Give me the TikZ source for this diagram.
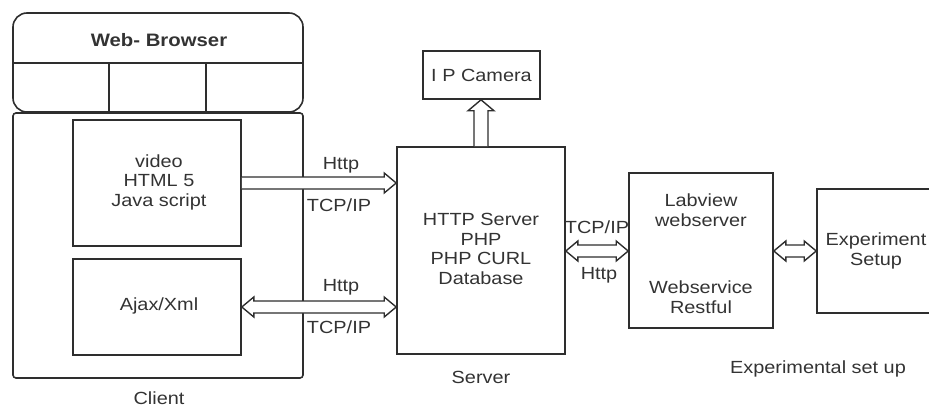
\documentclass[tikz,border=0pt]{standalone}
\usepackage{fontspec}
\setmainfont{Liberation Sans}[FakeStretch=1.13]
\usetikzlibrary{calc}
\definecolor{ln}{gray}{0.18}
\definecolor{txt}{gray}{0.2}
\tikzset{
  box/.style={draw=ln, line width=1.6pt, rectangle, inner sep=0pt},
  lbl/.style={font=\fontsize{17.6}{19.5}\selectfont, text=txt, align=center, inner sep=0pt},
  arr/.style={draw=ln, line width=1.4pt, fill=white, line join=miter},
}
% hollow block arrow, open tail at #1, tip at #2 (horizontal)
\newcommand\blockR[2]{%
  \draw[arr] ($(#1)+(0,6)$) -- ($(#2)+(-12,6)$) -- ($(#2)+(-12,10)$) -- (#2)
    -- ($(#2)+(-12,-10)$) -- ($(#2)+(-12,-6)$) -- ($(#1)+(0,-6)$);}
% hollow block arrow with tips at both ends (horizontal, #1 left, #2 right)
\newcommand\blockD[2]{%
  \draw[arr] ($(#1)+(12,6)$) -- ($(#2)+(-12,6)$) -- ($(#2)+(-12,10)$) -- (#2)
    -- ($(#2)+(-12,-10)$) -- ($(#2)+(-12,-6)$) -- ($(#1)+(12,-6)$)
    -- ($(#1)+(12,-10)$) -- (#1) -- ($(#1)+(12,10)$) -- cycle;}
% hollow block arrow pointing up, tail #1, tip #2
\newcommand\blockU[2]{%
  \draw[arr] ($(#1)+(-7,0)$) -- ($(#2)+(-7,11)$) -- ($(#2)+(-13,11)$) -- (#2)
    -- ($(#2)+(13,11)$) -- ($(#2)+(7,11)$) -- ($(#1)+(7,0)$);}
\begin{document}
\begin{tikzpicture}[x=1pt, y=-1pt]
\useasboundingbox (0,0) rectangle (929,409);

% client side
\node[box, rounded corners=14pt, minimum width=290pt, minimum height=99pt] (browser) at (158,62.5) {};
\coordinate (hdr) at (158,63);
\coordinate (div1) at (109,63);
\coordinate (div2) at (206,63);
\draw[ln, line width=1.6pt] (browser.west |- hdr) -- (browser.east |- hdr);
\draw[ln, line width=1.6pt] (div1) -- (div1 |- browser.south);
\draw[ln, line width=1.6pt] (div2) -- (div2 |- browser.south);
\node[lbl, font=\fontsize{18}{20}\selectfont\bfseries] (btitle) at (159,40) {Web- Browser};

\node[box, rounded corners=3pt, minimum width=290pt, minimum height=265pt] (client) at (158,245.5) {};
\node[box, minimum width=168pt, minimum height=126pt] (vid) at (157,183) {};
\node[lbl] (vidtxt) at (159,182) {video\\HTML 5\\Java script};
\node[box, minimum width=168pt, minimum height=96pt] (ajax) at (157,307) {};
\node[lbl] (ajaxtxt) at (159,306) {Ajax/Xml};
\node[lbl] (clientlbl) at (159,398) {Client};

% server side
\node[box, minimum width=168pt, minimum height=207pt] (server) at (481,250.5) {};
\node[lbl] (servertxt) at (481,249) {HTTP Server\\PHP\\PHP CURL\\Database};
\node[lbl] (serverlbl) at (481,377) {Server};
\node[box, minimum width=117pt, minimum height=48pt] (camera) at (481.5,75) {};
\node[lbl] (cameratxt) at (481.5,75) {I P Camera};

% experimental set up (box runs past the right edge)
\node[box, minimum width=200pt, minimum height=124pt] (expt) at (917,251) {};
\node[box, minimum width=144pt, minimum height=155pt] (labview) at (701,250.5) {};
\node[lbl] (lvtop) at (701,210) {Labview\\webserver};
\node[lbl] (lvbot) at (701,297) {Webservice\\Restful};
\node[lbl] (expttxt) at (876,251) {Experiment\\Setup};
\node[lbl] (exptlbl) at (818,369) {Experimental set up};

% connectors
\coordinate (lane) at (700,251);
\blockR{vid.east}{server.west |- vid.east}
\node[lbl] (h1) at (341,165) {Http};
\node[lbl] (t1) at (339,205) {TCP/IP};

\blockD{ajax.east}{server.west |- ajax.east}
\node[lbl] (h2) at (341,287) {Http};
\node[lbl] (t2) at (339,327) {TCP/IP};

\blockU{server.north}{server.north |- camera.south}

\blockD{server.east |- lane}{labview.west |- lane}
\node[lbl] (t3) at (597,227) {TCP/IP};
\node[lbl] (h3) at (599,275) {Http};

\blockD{labview.east |- lane}{expt.west |- lane}
\end{tikzpicture}
\end{document}
